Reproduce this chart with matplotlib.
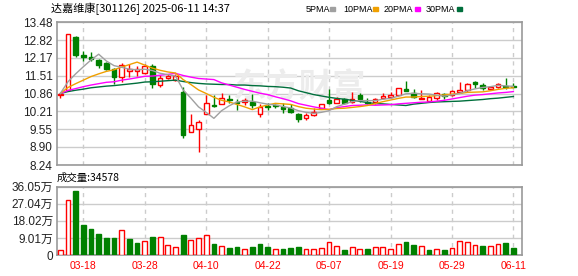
import matplotlib
matplotlib.use('Agg')
import matplotlib.pyplot as plt
from matplotlib.patches import Rectangle

plt.rcParams['font.family'] = ['Liberation Sans', 'Noto Sans CJK SC']

dates = ['03-13', '03-14', '03-17', '03-18', '03-19', '03-20', '03-21', '03-24', '03-25', '03-26',
         '03-27', '03-28', '03-31', '04-01', '04-02', '04-03', '04-07', '04-08', '04-09', '04-10',
         '04-11', '04-14', '04-15', '04-16', '04-17', '04-18', '04-21', '04-22', '04-23', '04-24',
         '04-25', '04-28', '04-29', '04-30', '05-06', '05-07', '05-08', '05-09', '05-12', '05-13',
         '05-14', '05-15', '05-16', '05-19', '05-20', '05-21', '05-22', '05-23', '05-26', '05-27',
         '05-28', '05-29', '05-30', '06-03', '06-04', '06-05', '06-06', '06-09', '06-10', '06-11']

opens = [10.79, 11.00, 12.92, 12.27, 12.21, 12.09, 11.98, 11.75, 11.47, 11.68,
         11.70, 11.60, 11.88, 11.16, 11.44, 11.36, 10.90, 9.44, 9.57, 10.10,
         10.44, 10.49, 10.66, 10.55, 10.56, 10.56, 10.11, 10.40, 10.43, 10.35,
         10.32, 10.10, 9.97, 10.07, 10.32, 10.62, 10.52, 10.66, 10.54, 10.81,
         10.56, 10.54, 10.68, 10.74, 10.81, 11.03, 10.89, 10.66, 10.59, 10.68,
         10.83, 10.79, 10.93, 10.98, 11.27, 11.17, 11.04, 11.11, 11.15, 11.15]
highs = [10.89, 13.03, 12.95, 12.42, 12.37, 12.11, 12.00, 11.81, 11.98, 11.93,
         11.86, 11.95, 11.94, 11.54, 11.56, 11.58, 11.09, 10.11, 9.89, 10.81,
         10.81, 10.87, 10.81, 10.66, 10.68, 10.83, 10.48, 10.50, 10.47, 10.50,
         10.47, 10.16, 10.13, 10.32, 10.49, 11.01, 10.72, 10.70, 10.90, 10.87,
         10.68, 10.70, 10.89, 10.90, 11.07, 11.32, 11.03, 10.99, 10.80, 10.90,
         10.89, 10.99, 11.27, 11.26, 11.33, 11.23, 11.15, 11.23, 11.42, 11.26]
lows = [10.70, 10.95, 12.20, 12.06, 12.05, 11.81, 11.72, 11.20, 11.29, 11.48,
        11.51, 11.56, 11.05, 11.11, 11.38, 11.30, 9.22, 9.44, 8.71, 10.10,
        10.35, 10.49, 10.50, 10.26, 10.44, 10.34, 10.01, 10.26, 10.34, 10.13,
        10.16, 9.81, 9.89, 10.05, 10.30, 10.47, 10.50, 10.47, 10.50, 10.56,
        10.47, 10.47, 10.65, 10.71, 10.77, 10.96, 10.71, 10.66, 10.55, 10.62,
        10.65, 10.77, 10.93, 10.90, 11.07, 10.99, 10.99, 11.06, 11.04, 11.11]
closes = [10.86, 13.03, 12.27, 12.19, 12.11, 11.89, 11.77, 11.45, 11.89, 11.76,
          11.76, 11.88, 11.20, 11.42, 11.49, 11.50, 9.33, 9.71, 9.81, 10.50,
          10.40, 10.71, 10.63, 10.52, 10.62, 10.44, 10.38, 10.37, 10.40, 10.29,
          10.19, 9.91, 10.07, 10.19, 10.47, 10.52, 10.66, 10.50, 10.66, 10.66,
          10.52, 10.66, 10.77, 10.79, 11.07, 10.96, 10.74, 10.70, 10.72, 10.87,
          10.78, 10.96, 10.98, 11.20, 11.21, 11.07, 11.09, 11.21, 11.11, 11.11]

ma5 = [10.86, 11.29, 11.58, 11.84, 12.09, 12.30, 12.05, 11.88, 11.82, 11.75,
       11.73, 11.75, 11.70, 11.60, 11.55, 11.50, 10.99, 10.69, 10.37, 10.17,
       9.95, 10.23, 10.41, 10.55, 10.58, 10.58, 10.52, 10.47, 10.44, 10.38,
       10.33, 10.23, 10.17, 10.13, 10.17, 10.23, 10.38, 10.47, 10.56, 10.60,
       10.60, 10.60, 10.65, 10.68, 10.76, 10.85, 10.87, 10.85, 10.84, 10.80,
       10.76, 10.81, 10.86, 10.96, 11.03, 11.08, 11.11, 11.16, 11.14, 11.12]
ma10 = [10.86, 11.08, 11.22, 11.35, 11.48, 11.58, 11.67, 11.73, 11.83, 11.92,
        12.01, 11.90, 11.79, 11.71, 11.65, 11.61, 11.37, 11.19, 10.99, 10.86,
        10.72, 10.61, 10.55, 10.46, 10.37, 10.27, 10.37, 10.44, 10.50, 10.48,
        10.46, 10.38, 10.32, 10.29, 10.27, 10.28, 10.31, 10.32, 10.35, 10.38,
        10.42, 10.49, 10.56, 10.62, 10.68, 10.73, 10.73, 10.75, 10.76, 10.78,
        10.81, 10.84, 10.86, 10.90, 10.91, 10.92, 10.96, 11.01, 11.05, 11.07]
ma20 = [10.86, 10.97, 11.04, 11.11, 11.17, 11.22, 11.27, 11.29, 11.35, 11.39,
        11.44, 11.49, 11.50, 11.53, 11.56, 11.60, 11.52, 11.46, 11.41, 11.39,
        11.37, 11.25, 11.17, 11.09, 11.01, 10.94, 10.87, 10.82, 10.74, 10.67,
        10.59, 10.49, 10.43, 10.37, 10.32, 10.27, 10.34, 10.38, 10.42, 10.43,
        10.44, 10.43, 10.44, 10.45, 10.48, 10.50, 10.52, 10.54, 10.55, 10.58,
        10.61, 10.66, 10.71, 10.76, 10.80, 10.82, 10.85, 10.88, 10.90, 10.93]
ma30 = [10.86, 10.93, 10.98, 11.02, 11.07, 11.10, 11.13, 11.15, 11.18, 11.21,
        11.24, 11.28, 11.29, 11.31, 11.33, 11.35, 11.30, 11.26, 11.23, 11.21,
        11.20, 11.19, 11.19, 11.17, 11.17, 11.15, 11.14, 11.12, 11.11, 11.09,
        11.06, 10.96, 10.89, 10.82, 10.77, 10.72, 10.68, 10.65, 10.61, 10.57,
        10.53, 10.49, 10.48, 10.46, 10.44, 10.42, 10.47, 10.50, 10.53, 10.55,
        10.56, 10.57, 10.58, 10.60, 10.62, 10.64, 10.67, 10.69, 10.72, 10.75]

# volume in 万手
volume = [2.6, 29.0, 33.8, 15.8, 13.7, 11.1, 9.0, 9.0, 13.0, 8.4,
          6.3, 7.2, 9.7, 9.7, 5.3, 4.2, 10.6, 7.9, 9.0, 10.6,
          5.8, 4.75, 3.7, 4.2, 3.2, 4.2, 5.8, 4.2, 3.2, 3.2,
          3.7, 4.2, 3.2, 3.2, 3.7, 6.7, 4.75, 2.6, 4.2, 3.2,
          3.2, 4.2, 4.2, 3.2, 5.8, 6.9, 5.3, 4.75, 2.6, 3.2,
          2.6, 3.7, 7.4, 6.9, 5.3, 4.75, 4.75, 5.8, 6.3, 3.4578]
vol_up = [1, 1, 0, 0, 0, 0, 0, 0, 1, 0,
          0, 1, 0, 1, 1, 1, 0, 1, 1, 1,
          0, 1, 0, 0, 1, 0, 0, 0, 1, 0,
          0, 0, 1, 1, 1, 1, 1, 0, 1, 1,
          0, 1, 1, 1, 1, 0, 0, 1, 0, 1,
          0, 1, 1, 1, 1, 0, 1, 1, 0, 0]

price_ticks = [8.24, 8.90, 9.55, 10.21, 10.86, 11.51, 12.17, 12.82, 13.48]
vol_ticks = [0, 9.01, 18.02, 27.04, 36.05]
vol_tick_labels = ['0', '9.01万', '18.02万', '27.04万', '36.05万']
date_labels = ['03-18', '03-28', '04-10', '04-22', '05-07', '05-19', '05-29', '06-11']

RED = '#ff0000'
GREEN = '#008000'
ma_colors = ['#a0a0a0', '#f0a000', '#ff00ff', '#006f3c']
FRAME = '#999999'
GRID = '#cccccc'
LABEL = '#222222'

fig = plt.figure(figsize=(5.78, 2.76), dpi=100)
W, H = 578, 276
ax = fig.add_axes([57 / W, 1 - 165 / H, 465 / W, 143 / H])
axv = fig.add_axes([57 / W, 1 - 255 / H, 465 / W, 68.3 / H])

x = list(range(len(dates)))
date_pos = [dates.index(d) for d in date_labels]

# candles
for i in x:
    o, h, l, c = opens[i], highs[i], lows[i], closes[i]
    up = c >= o
    col = RED if up else GREEN
    ax.vlines(i, l, h, color=col, lw=1, zorder=2)
    body = max(abs(c - o), 0.03)
    ax.bar(i, body, bottom=min(o, c), width=0.6,
           facecolor='white' if up else GREEN, edgecolor=col, lw=1, zorder=3)

for ma, col in zip([ma30, ma20, ma10, ma5], ma_colors[::-1]):
    ax.plot(x, ma, color=col, lw=1, zorder=4)

ax.text(0.52, 0.54, '东方财富', transform=ax.transAxes, fontsize=24,
        family=['Noto Sans CJK SC'], fontweight='bold', color='#ececec',
        ha='center', va='center', zorder=1)

# volume
for i in x:
    up = vol_up[i]
    axv.bar(i, volume[i], width=0.62, facecolor='white' if up else GREEN,
            edgecolor=RED if up else GREEN, lw=1, zorder=3)

for a in (ax, axv):
    a.set_xlim(-0.43, 60.12)
    a.set_xticks(date_pos)
    a.grid(axis='x', color=GRID, ls=(0, (3, 3)), lw=1, zorder=0)
    a.grid(axis='y', color=GRID, ls='-', lw=1, zorder=0)
    a.set_axisbelow(True)
    for s in a.spines.values():
        s.set_color(FRAME)
        s.set_linewidth(1.2)
    a.tick_params(length=0, labelsize=8.5, labelcolor=LABEL, pad=3)

ax.set_ylim(price_ticks[0], price_ticks[-1])
ax.set_yticks(price_ticks)
ax.set_yticklabels([f'{t:.2f}' for t in price_ticks])
ax.set_xticklabels([])

axv.set_ylim(0, vol_ticks[-1])
axv.set_yticks(vol_ticks)
axv.set_yticklabels(vol_tick_labels)
axv.set_xticklabels(date_labels)
axv.tick_params(axis='x', labelcolor=RED, labelsize=7.5, pad=4)

# header
fig.text(50.5 / W, 1 - 8.5 / H, '达嘉维康[301126] 2025-06-11 14:37', fontsize=8,
         family=['Noto Sans CJK SC'], color='black', ha='left', va='center')
legend_x = [306, 343, 384, 426]
square_x = [330, 373, 415, 457]
for name, tx, sx, col in zip(['5PMA', '10PMA', '20PMA', '30PMA'], legend_x, square_x, ma_colors):
    fig.text(tx / W, 1 - 9 / H, name, fontsize=6.5, color='black', ha='left', va='center')
    fig.patches.append(Rectangle((sx / W, 1 - 10.5 / H), 5 / W, 3.5 / H,
                                 transform=fig.transFigure, color=col))

fig.text(57 / W, 1 - 178 / H, '成交量:34578', fontsize=7.5,
         family=['Noto Sans CJK SC'], color='black', ha='left', va='center')

fig.savefig('out.png', dpi=100)
